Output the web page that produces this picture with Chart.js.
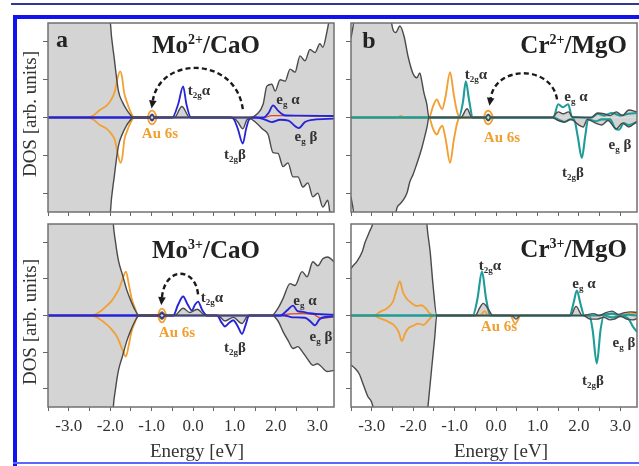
<!DOCTYPE html>
<html><head><meta charset="utf-8">
<script src="https://cdn.jsdelivr.net/npm/chart.js@4.4.1/dist/chart.umd.min.js"></script>
<style>
body{margin:0;background:#fff;}
#fig{position:relative;width:639px;height:466px;overflow:hidden;background:#fff;font-family:'Liberation Serif','Times New Roman',serif;}
.cv{position:absolute;}
.bar{position:absolute;}
.t{position:absolute;transform:translate(-50%,-50%);white-space:nowrap;line-height:1;}
.tl{transform:translate(0,-50%);}
.tr{transform:translate(-100%,-50%);}
.ann{font-size:15px;font-weight:bold;color:#333;}
.ann sub{font-size:9px;vertical-align:-3px;line-height:0;}
.au{font-size:15px;font-weight:bold;color:#f0a030;}
.ttl{font-size:25px;font-weight:bold;color:#222;}
.ttl sup{font-size:14px;vertical-align:9px;line-height:0;}
.ax{font-size:19px;color:#333;}
.rot{transform:translate(-50%,-50%) rotate(-90deg);}
</style></head>
<body>
<div id="fig">
  <div class="bar" style="left:11px;top:3px;width:628px;height:2px;background:#2e3a8f"></div>
  <div class="bar" style="left:13px;top:15px;width:626px;height:4px;background:#1212f0"></div>
  <div class="bar" style="left:13px;top:15px;width:4px;height:451px;background:#1212f0"></div>
  <div class="bar" style="left:13px;top:462px;width:626px;height:2px;background:#5a68ff"></div>

  <div class="t ax rot" style="left:29px;top:114px">DOS [arb. units]</div>
  <div class="t ax rot" style="left:29px;top:322px">DOS [arb. units]</div>
  <div class="t ax" style="left:197px;top:450px">Energy [eV]</div>
  <div class="t ax" style="left:501px;top:450px">Energy [eV]</div>

  <div class="t ttl" style="left:62px;top:39px;font-size:24px">a</div>
  <div class="t ttl" style="left:369px;top:40px;font-size:24px">b</div>
  <div class="t tl ttl" style="left:152px;top:44px">Mo<sup>2+</sup>/CaO</div>
  <div class="t tr ttl" style="left:627px;top:44px">Cr<sup>2+</sup>/MgO</div>
  <div class="t tl ttl" style="left:152px;top:249px">Mo<sup>3+</sup>/CaO</div>
  <div class="t tr ttl" style="left:627px;top:248px">Cr<sup>3+</sup>/MgO</div>

  <div class="t ann" style="left:199px;top:90px">t<sub>2g</sub>α</div>
  <div class="t ann" style="left:235px;top:154px">t<sub>2g</sub>β</div>
  <div class="t ann" style="left:288px;top:99px">e<sub>g</sub> α</div>
  <div class="t ann" style="left:306px;top:136px">e<sub>g</sub> β</div>
  <div class="t au" style="left:160px;top:133px">Au 6s</div>

  <div class="t ann" style="left:476px;top:74px">t<sub>2g</sub>α</div>
  <div class="t ann" style="left:576px;top:96px">e<sub>g</sub> α</div>
  <div class="t ann" style="left:620px;top:144px">e<sub>g</sub> β</div>
  <div class="t ann" style="left:573px;top:172px">t<sub>2g</sub>β</div>
  <div class="t au" style="left:502px;top:137px">Au 6s</div>

  <div class="t ann" style="left:212px;top:297px">t<sub>2g</sub>α</div>
  <div class="t ann" style="left:235px;top:347px">t<sub>2g</sub>β</div>
  <div class="t ann" style="left:305px;top:300px">e<sub>g</sub> α</div>
  <div class="t ann" style="left:321px;top:336px">e<sub>g</sub> β</div>
  <div class="t au" style="left:177px;top:332px">Au 6s</div>

  <div class="t ann" style="left:490px;top:265px">t<sub>2g</sub>α</div>
  <div class="t au" style="left:499px;top:326px">Au 6s</div>
  <div class="t ann" style="left:584px;top:283px">e<sub>g</sub> α</div>
  <div class="t ann" style="left:624px;top:342px">e<sub>g</sub> β</div>
  <div class="t ann" style="left:593px;top:380px">t<sub>2g</sub>β</div>
</div>
<script>
// ---- axis ticks ----
const xTickVals = [-3.5,-3.0,-2.5,-2.0,-1.5,-1.0,-0.5,0.0,0.5,1.0,1.5,2.0,2.5,3.0];
const xTickLabels = ['','-3.0','','-2.0','','-1.0','','0.0','','1.0','','2.0','','3.0'];
const yTickVals = [-2,-1,0,1,2];
const xMin=-3.5, xMax=3.4, yMin=-2.5, yMax=2.5;

// ---- Mo2+/CaO ----
const mo2_totA=[[-3.5,6],[-2.12,6],[-2.0,2.6],[-1.9,1.55],[-1.8,0.7],[-1.7,0.4],[-1.6,0.2],[-1.52,0.08],[-1.45,0],[-1.06,0],[-0.99,0.08],[-0.92,0],[-0.45,0],[-0.27,0.29],[-0.08,0],[1.35,0],[1.55,0.1],[1.69,0.35],[1.78,0.83],[1.9,0.88],[1.98,0.7],[2.1,1.0],[2.22,0.96],[2.34,1.28],[2.46,1.2],[2.58,1.63],[2.7,1.5],[2.82,1.8],[2.94,1.72],[3.06,1.95],[3.13,1.86],[3.23,2.27],[3.32,2.8],[3.4,3.2]];
const mo2_totB=[[-3.5,-6],[-2.12,-6],[-2.0,-2.6],[-1.9,-1.55],[-1.8,-0.75],[-1.7,-0.42],[-1.6,-0.2],[-1.52,-0.08],[-1.45,0],[-1.06,0],[-0.99,-0.08],[-0.92,0],[0.95,0],[1.08,-0.12],[1.2,-0.3],[1.3,-0.06],[1.37,-0.03],[1.5,-0.12],[1.69,-0.32],[1.81,-0.45],[1.93,-0.93],[2.05,-0.95],[2.17,-1.3],[2.29,-1.2],[2.41,-1.57],[2.53,-1.57],[2.65,-1.84],[2.77,-1.73],[2.89,-2.1],[3.01,-2.0],[3.13,-2.37],[3.25,-2.19],[3.32,-2.7],[3.4,-3.2]];
const mo2_auA=[[-3.5,0],[-2.55,0],[-2.4,0.06],[-2.25,0.2],[-2.08,0.32],[-1.96,0.5],[-1.88,0.72],[-1.82,1.05],[-1.76,1.22],[-1.71,1.05],[-1.67,0.7],[-1.6,0.42],[-1.5,0.13],[-1.42,0],[-1.11,0],[-1.05,0.14],[-0.99,0.18],[-0.93,0.14],[-0.87,0]];
const mo2_auB=[[-3.5,0],[-2.55,0],[-2.4,-0.06],[-2.25,-0.2],[-2.08,-0.3],[-1.96,-0.45],[-1.88,-0.62],[-1.82,-0.95],[-1.75,-1.2],[-1.7,-1.0],[-1.66,-0.6],[-1.6,-0.38],[-1.5,-0.12],[-1.42,0],[-1.11,0],[-1.05,-0.14],[-0.99,-0.18],[-0.93,-0.14],[-0.87,0]];
const mo2_dA=[[-3.5,0],[-1.06,0],[-0.99,0.08],[-0.92,0],[-0.5,0],[-0.36,0.35],[-0.24,0.82],[-0.16,0.35],[-0.05,0],[1.7,0],[1.82,0.12],[1.93,0.32],[2.05,0.18],[2.2,0.06],[2.5,0.05],[3.4,0.04]];
const mo2_dB=[[-3.5,0],[-1.06,0],[-0.99,-0.08],[-0.92,0],[0.9,0],[0.98,-0.04],[1.08,-0.3],[1.2,-0.69],[1.28,-0.3],[1.36,-0.04],[1.5,0],[1.7,-0.04],[1.9,-0.12],[2.1,-0.06],[2.3,-0.08],[2.45,-0.22],[2.55,-0.28],[2.7,-0.12],[2.9,-0.06],[3.4,-0.03]];
const mo2_red=[[1.75,0],[1.9,0.05],[2.5,0.05],[3.0,0.04],[3.4,0.04]];

// ---- Cr2+/MgO ----
const cr2_totA=[[-3.5,2.1],[-3.42,2.7],[-3.3,5],[-2.62,5],[-2.52,2.5],[-2.42,2.25],[-2.32,2.42],[-2.22,2.15],[-2.12,1.6],[-2.0,1.15],[-1.91,1.05],[-1.84,1.18],[-1.79,0.95],[-1.74,0.65],[-1.67,0.35],[-1.62,0],[-0.85,0],[-0.7,0.23],[-0.58,0],[-0.26,0],[-0.19,0.08],[-0.12,0],[1.35,0],[1.5,0.15],[1.62,0.1],[1.75,0.15],[1.85,0],[2.3,0],[2.45,0.12],[2.6,0.1],[2.75,0.05],[2.9,0.15],[3.05,0.05],[3.2,0.2],[3.4,0.15]];
const cr2_totB=[[-3.5,-2.1],[-3.42,-2.7],[-3.3,-5],[-2.5,-5],[-2.42,-2.55],[-2.33,-2.3],[-2.25,-2.2],[-2.15,-2.0],[-2.08,-1.7],[-2.0,-1.5],[-1.92,-1.25],[-1.86,-1.05],[-1.79,-0.8],[-1.72,-0.5],[-1.66,-0.22],[-1.62,0],[-0.26,0],[-0.19,-0.08],[-0.12,0],[1.35,0],[1.5,-0.08],[1.65,-0.12],[1.8,-0.05],[2.0,-0.2],[2.1,-0.25],[2.2,-0.05],[2.4,-0.15],[2.55,-0.2],[2.7,-0.08],[2.9,-0.3],[3.05,-0.15],[3.2,-0.25],[3.4,-0.1]];
const cr2_auA=[[-3.5,0],[-2.4,0],[-2.3,0.04],[-2.2,0],[-1.62,0],[-1.52,0.3],[-1.43,0.48],[-1.36,0.32],[-1.3,0.22],[-1.22,0.55],[-1.11,1.2],[-1.02,0.6],[-0.94,0.15],[-0.87,0],[-0.31,0],[-0.25,0.14],[-0.19,0.18],[-0.13,0.14],[-0.07,0]];
const cr2_auB=[[-3.5,0],[-1.62,0],[-1.52,-0.3],[-1.43,-0.45],[-1.36,-0.3],[-1.3,-0.22],[-1.22,-0.55],[-1.11,-1.2],[-1.02,-0.6],[-0.94,-0.15],[-0.87,0],[-0.31,0],[-0.25,-0.14],[-0.19,-0.18],[-0.13,-0.14],[-0.07,0]];
const cr2_dA=[[-3.5,0],[-0.9,0],[-0.8,0.4],[-0.73,0.96],[-0.65,0.45],[-0.56,0],[-0.26,0],[-0.19,0.08],[-0.12,0],[1.38,0],[1.5,0.35],[1.61,0.27],[1.74,0.35],[1.83,0.02],[2.3,0],[2.45,0.1],[2.6,0.05],[2.8,0.12],[3.0,0.05],[3.2,0.1],[3.4,0.12]];
const cr2_dB=[[-3.5,0],[-0.26,0],[-0.19,-0.08],[-0.12,0],[1.4,0],[1.5,-0.05],[1.65,-0.12],[1.8,-0.05],[1.88,-0.05],[1.97,-0.5],[2.07,-1.07],[2.15,-0.5],[2.22,-0.05],[2.4,-0.1],[2.55,-0.05],[2.75,-0.05],[2.88,-0.3],[2.97,-0.32],[3.08,-0.15],[3.2,-0.2],[3.4,-0.12]];

// ---- Mo3+/CaO ----
const mo3_totA=[[-3.5,6],[-2.05,6],[-1.93,2.6],[-1.87,2.0],[-1.8,1.5],[-1.7,1.1],[-1.6,0.7],[-1.5,0.4],[-1.4,0.15],[-1.3,0],[-0.83,0],[-0.75,0.1],[-0.67,0],[-0.45,0],[-0.24,0.2],[-0.08,0.08],[0.1,0.17],[0.3,0],[1.9,0],[2.05,0.2],[2.17,0.46],[2.34,0.87],[2.46,0.82],[2.63,1.2],[2.75,1.06],[2.89,1.47],[3.01,1.36],[3.13,1.55],[3.25,1.6],[3.4,1.47]];
const mo3_totB=[[-3.5,-6],[-2.05,-6],[-1.93,-2.6],[-1.87,-2.0],[-1.8,-1.5],[-1.7,-1.1],[-1.6,-0.7],[-1.5,-0.4],[-1.4,-0.15],[-1.3,0],[-0.83,0],[-0.75,-0.1],[-0.67,0],[0.6,0],[0.77,-0.15],[0.97,-0.05],[1.18,-0.22],[1.33,0],[1.9,0],[2.05,-0.15],[2.17,-0.44],[2.3,-0.7],[2.41,-0.9],[2.53,-0.85],[2.63,-0.98],[2.75,-1.17],[2.89,-1.36],[3.0,-1.32],[3.08,-1.38],[3.23,-1.53],[3.4,-1.5]];
const mo3_auA=[[-3.5,0],[-2.45,0],[-2.25,0.1],[-2.08,0.27],[-1.95,0.42],[-1.85,0.6],[-1.78,0.75],[-1.7,1.0],[-1.62,1.2],[-1.55,0.85],[-1.48,0.45],[-1.4,0.2],[-1.33,0],[-0.86,0],[-0.8,0.15],[-0.75,0.19],[-0.7,0.15],[-0.64,0]];
const mo3_auB=[[-3.5,0],[-2.45,0],[-2.25,-0.1],[-2.08,-0.25],[-1.95,-0.4],[-1.85,-0.55],[-1.78,-0.72],[-1.7,-0.95],[-1.62,-1.12],[-1.55,-0.8],[-1.48,-0.42],[-1.4,-0.18],[-1.33,0],[-0.86,0],[-0.8,-0.15],[-0.75,-0.19],[-0.7,-0.15],[-0.64,0]];
const mo3_dA=[[-3.5,0],[-0.83,0],[-0.75,0.07],[-0.67,0],[-0.48,0],[-0.36,0.3],[-0.24,0.52],[-0.13,0.3],[-0.03,0.14],[0.05,0.3],[0.12,0.38],[0.22,0.15],[0.34,0],[2.1,0],[2.28,0.15],[2.41,0.27],[2.52,0.12],[2.65,0.1],[2.8,0.06],[3.4,0.02]];
const mo3_dB=[[-3.5,0],[-0.83,0],[-0.75,-0.07],[-0.67,0],[0.58,0],[0.68,-0.18],[0.77,-0.3],[0.87,-0.2],[0.97,-0.13],[1.08,-0.3],[1.18,-0.5],[1.27,-0.25],[1.35,0],[2.2,0],[2.4,-0.05],[2.7,-0.06],[2.82,-0.15],[2.94,-0.27],[3.05,-0.1],[3.2,-0.04],[3.4,-0.03]];
const mo3_red=[[2.1,0],[2.3,0.04],[2.6,0.05],[2.9,0.03],[3.1,-0.08],[3.4,-0.03]];

// ---- Cr3+/MgO ----
const cr3_totA=[[-3.5,1.28],[-3.45,1.36],[-3.36,1.47],[-3.23,1.74],[-3.16,2.0],[-3.05,2.3],[-2.97,2.55],[-2.9,3.2],[-2.8,5],[-1.8,5],[-1.67,2.5],[-1.59,1.74],[-1.52,0.82],[-1.43,0],[-0.5,0],[-0.4,0.2],[-0.31,0.33],[-0.2,0.2],[-0.08,0],[1.8,0],[1.93,0.25],[2.08,0],[2.35,0.05],[2.5,0],[2.65,0.08],[2.8,0.12],[2.95,0.03],[3.1,0.08],[3.25,0.1],[3.4,0.08]];
const cr3_totB=[[-3.5,-1.35],[-3.4,-1.45],[-3.3,-1.6],[-3.2,-1.9],[-3.1,-2.2],[-2.97,-2.5],[-2.9,-3.2],[-2.8,-5],[-1.85,-5],[-1.64,-2.45],[-1.55,-1.4],[-1.48,-0.6],[-1.43,0],[0.38,0],[0.48,-0.1],[0.58,0],[2.1,0],[2.28,-0.1],[2.43,-0.1],[2.6,-0.05],[2.75,-0.12],[2.85,-0.1],[3.0,-0.02],[3.15,-0.1],[3.3,-0.12],[3.4,-0.08]];
const cr3_auA=[[-3.5,0],[-2.95,0],[-2.8,0.1],[-2.63,0.2],[-2.49,0.37],[-2.39,0.74],[-2.32,0.93],[-2.25,0.65],[-2.15,0.45],[-2.05,0.35],[-1.92,0.26],[-1.8,0.28],[-1.7,0.2],[-1.62,0.08],[-1.5,0],[-0.38,0],[-0.28,0.12],[-0.2,0]];
const cr3_auB=[[-3.5,0],[-2.95,0],[-2.8,-0.08],[-2.6,-0.17],[-2.45,-0.28],[-2.35,-0.45],[-2.27,-0.7],[-2.2,-0.5],[-2.12,-0.35],[-2.0,-0.28],[-1.88,-0.22],[-1.75,-0.26],[-1.65,-0.15],[-1.5,0],[0.34,0],[0.46,-0.22],[0.58,0]];
const cr3_auR=[[2.95,0],[3.1,0.03],[3.25,0.05],[3.4,0.06]];
const cr3_dA=[[-3.5,0],[-0.56,0],[-0.45,0.45],[-0.34,1.2],[-0.24,0.45],[-0.14,0],[1.78,0],[1.87,0.35],[1.95,0.68],[2.03,0.35],[2.13,0],[2.4,0],[2.6,0.02],[2.8,0.05],[3.0,0],[3.2,0.02],[3.4,0]];
const cr3_dB=[[-3.5,0],[2.25,0],[2.33,-0.4],[2.43,-1.31],[2.52,-0.4],[2.6,0],[2.8,-0.05],[3.0,-0.02],[3.2,-0.1],[3.3,-0.3],[3.4,-0.45]];

// ---- arrows (annotation: from, peak height, to) ----
const arrowMo2 = {from:[1.2,0.22], peak:1.31, to:[-0.97,0.45]};
const arrowCr2 = {from:[1.47,0.48], peak:1.17, to:[-0.13,0.52]};
const arrowMo3 = {from:[0.12,0.58], peak:1.14, to:[-0.75,0.5]};

const GRAY_LINE='#4a4a4a', GRAY_FILL='#d4d4d4', ORANGE='#f2a034', BLUE='#2424d8', TEAL='#1f9c99', RED='#e4462a';
const P = a => a.map(([x,y])=>({x,y}));
const gray = d => ({data:P(d), borderColor:GRAY_LINE, borderWidth:1.4, backgroundColor:GRAY_FILL, fill:'origin', order:1, clip:0});
const line = (d,c,w,o) => ({data:P(d), borderColor:c, backgroundColor:'rgba(0,0,0,0)', borderWidth:w, fill:false, order:o, clip:0});

const framePlugin={id:'frame', afterDraw(chart){const a=chart.chartArea,c=chart.ctx;c.save();c.strokeStyle='#707070';c.lineWidth=1.5;c.strokeRect(a.left,a.top,a.right-a.left,a.bottom-a.top);c.restore();}};
const arrowPlugin={id:'dosArrow', afterDatasetsDraw(chart,args,o){
  if(!o||!o.from) return;
  const xs=chart.scales.x, ys=chart.scales.y, ctx=chart.ctx;
  const x0=xs.getPixelForValue(o.from[0]), y0=ys.getPixelForValue(o.from[1]);
  const x3=xs.getPixelForValue(o.to[0]), y3=ys.getPixelForValue(o.to[1]);
  const cy=ys.getPixelForValue((8*o.peak-o.from[1]-o.to[1])/6);
  const c1x=x0+0.08*(x3-x0), c2x=x3+0.08*(x0-x3);
  ctx.save();
  ctx.strokeStyle='#1a1a1a'; ctx.lineWidth=2.4; ctx.setLineDash([5,3.2]);
  ctx.beginPath(); ctx.moveTo(x0,y0); ctx.bezierCurveTo(c1x,cy,c2x,cy,x3,y3); ctx.stroke();
  ctx.setLineDash([]);
  let dx=x3-c2x, dy=y3-cy; const L=Math.hypot(dx,dy); dx/=L; dy/=L;
  const tipx=x3+dx*8, tipy=y3+dy*8;
  ctx.fillStyle='#1a1a1a'; ctx.beginPath();
  ctx.moveTo(tipx,tipy); ctx.lineTo(x3-dy*3.8,y3+dx*3.8); ctx.lineTo(x3+dy*3.8,y3-dx*3.8); ctx.closePath(); ctx.fill();
  ctx.restore();
}};

const panels=[
 {rect:[48,23,286,189], labels:false, arrow:arrowMo2,
  ds:[gray(mo2_totA),gray(mo2_totB),line(mo2_red,RED,1.3,3),line(mo2_auA,ORANGE,1.8,4),line(mo2_auB,ORANGE,1.8,4),line(mo2_dA,BLUE,1.8,2),line(mo2_dB,BLUE,1.8,2)]},
 {rect:[351,23,286,189], labels:false, arrow:arrowCr2,
  ds:[gray(cr2_totA),gray(cr2_totB),line(cr2_auA,ORANGE,1.9,4),line(cr2_auB,ORANGE,1.9,4),line(cr2_dA,TEAL,2.1,2),line(cr2_dB,TEAL,2.1,2)]},
 {rect:[48,224,286,183], labels:true, arrow:arrowMo3,
  ds:[gray(mo3_totA),gray(mo3_totB),line(mo3_red,RED,1.3,3),line(mo3_auA,ORANGE,1.8,4),line(mo3_auB,ORANGE,1.8,4),line(mo3_dA,BLUE,1.9,2),line(mo3_dB,BLUE,1.9,2)]},
 {rect:[351,224,286,183], labels:true, arrow:false,
  ds:[gray(cr3_totA),gray(cr3_totB),line(cr3_auA,ORANGE,1.8,4),line(cr3_auB,ORANGE,1.8,4),line(cr3_auR,ORANGE,1.6,4),line(cr3_dA,TEAL,2.1,2),line(cr3_dB,TEAL,2.1,2)]}
];

const fig=document.getElementById('fig');
panels.forEach(p=>{
  const [l,t,w,h]=p.rect;
  const Wy=10, Tp=4, Rp=4, Hx=p.labels?36:8;
  const cv=document.createElement('canvas');
  cv.width=Wy+w+Rp; cv.height=Tp+h+Hx;
  cv.className='cv'; cv.style.left=(l-Wy)+'px'; cv.style.top=(t-Tp)+'px';
  fig.insertBefore(cv, fig.firstChild);
  new Chart(cv,{type:'line',data:{datasets:p.ds},options:{
    responsive:false, animation:false, devicePixelRatio:1,
    layout:{padding:{left:0,top:Tp,right:Rp,bottom:0}},
    plugins:{legend:{display:false},tooltip:{enabled:false},filler:{drawTime:'beforeDatasetsDraw'},dosArrow:p.arrow},
    elements:{point:{radius:0},line:{cubicInterpolationMode:'monotone'}},
    scales:{
      x:{type:'linear',min:xMin,max:xMax,
         afterBuildTicks:s=>{s.ticks=xTickVals.map(v=>({value:v}));},
         afterFit:s=>{s.height=Hx;},
         ticks:{display:p.labels,autoSkip:false,maxRotation:0,padding:5,font:{family:'Liberation Serif',size:17},color:'#333',callback:(v,i)=>xTickLabels[i]},
         grid:{drawOnChartArea:false,drawTicks:true,tickLength:4,color:'#666',lineWidth:1},
         border:{display:false}},
      y:{type:'linear',min:yMin,max:yMax,
         afterBuildTicks:s=>{s.ticks=yTickVals.map(v=>({value:v}));},
         afterFit:s=>{s.width=Wy;},
         ticks:{display:false},
         grid:{drawOnChartArea:false,drawTicks:true,tickLength:5,color:'#666',lineWidth:1},
         border:{display:false}}
    }},plugins:[framePlugin,arrowPlugin]});
});
</script>
</body></html>
